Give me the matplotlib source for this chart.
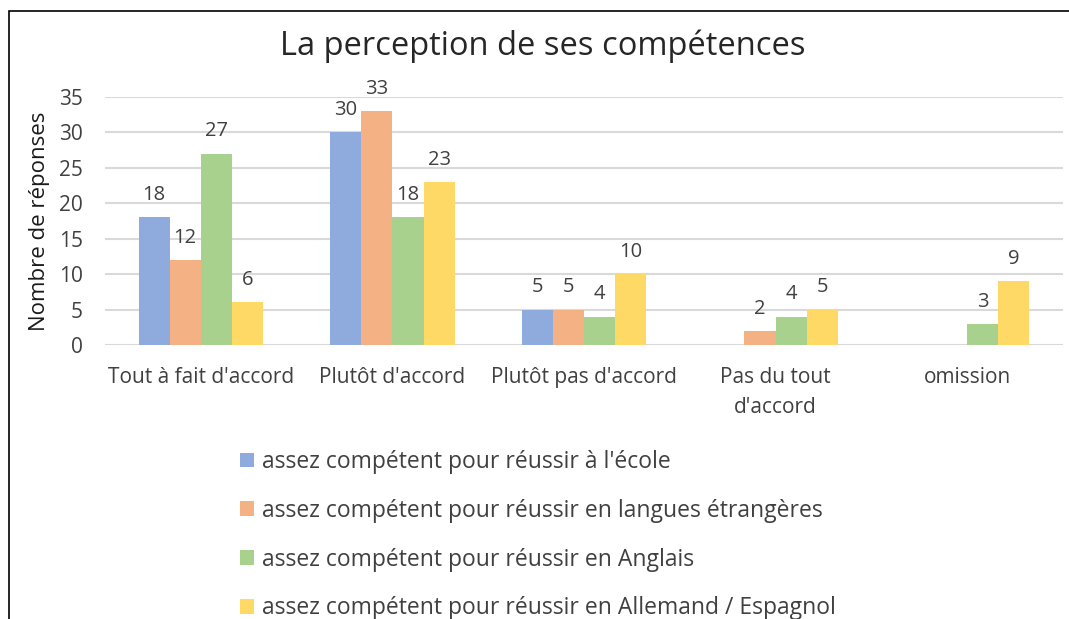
import matplotlib.pyplot as plt
import numpy as np
from matplotlib.patches import Rectangle

plt.rcParams['font.family'] = ['Open Sans', 'DejaVu Sans']

# categories and series
categories = ["Tout à fait d'accord", "Plutôt d'accord", "Plutôt pas d'accord",
              "Pas du tout\nd'accord", "omission"]
ecole = [18, 30, 5, 0, 0]
langues = [12, 33, 5, 2, 0]
anglais = [27, 18, 4, 4, 3]
all_esp = [6, 23, 10, 5, 9]

series_names = ["assez compétent pour réussir à l'école",
                "assez compétent pour réussir en langues étrangères",
                "assez compétent pour réussir en Anglais",
                "assez compétent pour réussir en Allemand / Espagnol"]
colors = ["#8FAADC", "#F4B183", "#A9D18E", "#FFD966"]

fig = plt.figure(figsize=(10.69, 6.19), dpi=100)
ax = fig.add_axes([105 / 1069, 1 - 345 / 619, (1063 - 105) / 1069, (345 - 97) / 619])

x = np.arange(len(categories))
w = 0.1625
bars = []
for i, (vals, name, c) in enumerate(zip([ecole, langues, anglais, all_esp], series_names, colors)):
    pos = x + (i - 1.5) * w
    b = ax.bar(pos, vals, width=w, color=c, label=name, zorder=3)
    bars.append(b)
    # data labels, only where there is a value
    for p, v in zip(pos, vals):
        if v > 0:
            ax.annotate(str(v), (p, v), xytext=(0, 16), textcoords='offset points',
                        ha='center', va='center', fontsize=14.5, color='#404040')

ax.set_xlim(-0.5, len(categories) - 0.5)
ax.set_ylim(0, 35)
ax.set_yticks(range(0, 36, 5))
ax.set_xticks(x)
ax.set_xticklabels(categories, linespacing=1.55)
ax.tick_params(axis='both', length=0, labelsize=15, labelcolor='#404040')
ax.tick_params(axis='x', pad=16)
ax.tick_params(axis='y', pad=16)
ax.grid(axis='y', color='#D9D9D9', linewidth=1.5, zorder=0)
for s in ax.spines.values():
    s.set_visible(False)

ax.set_ylabel("Nombre de réponses", fontsize=16, color='#1a1a1a', labelpad=6)

fig.text(543 / 1069, 1 - 46 / 619, "La perception de ses compétences",
         ha='center', va='center', fontsize=23.5, color='#262626')

fig.legend(handles=bars, loc='upper left', bbox_to_anchor=(240 / 1069, 1 - 450 / 619),
           frameon=False, fontsize=16.5, handlelength=0.62, handleheight=0.62,
           handletextpad=0.35, labelspacing=1.08, labelcolor='#404040',
           borderpad=0, borderaxespad=0)

# outer frame (only top and left edges show in the crop)
fig.add_artist(Rectangle((9 / 1069, -0.2), 1.2, 1.2 - 11 / 619, transform=fig.transFigure,
                         fill=False, edgecolor='black', linewidth=1.2, clip_on=False))

fig.savefig("out.png", dpi=100)
